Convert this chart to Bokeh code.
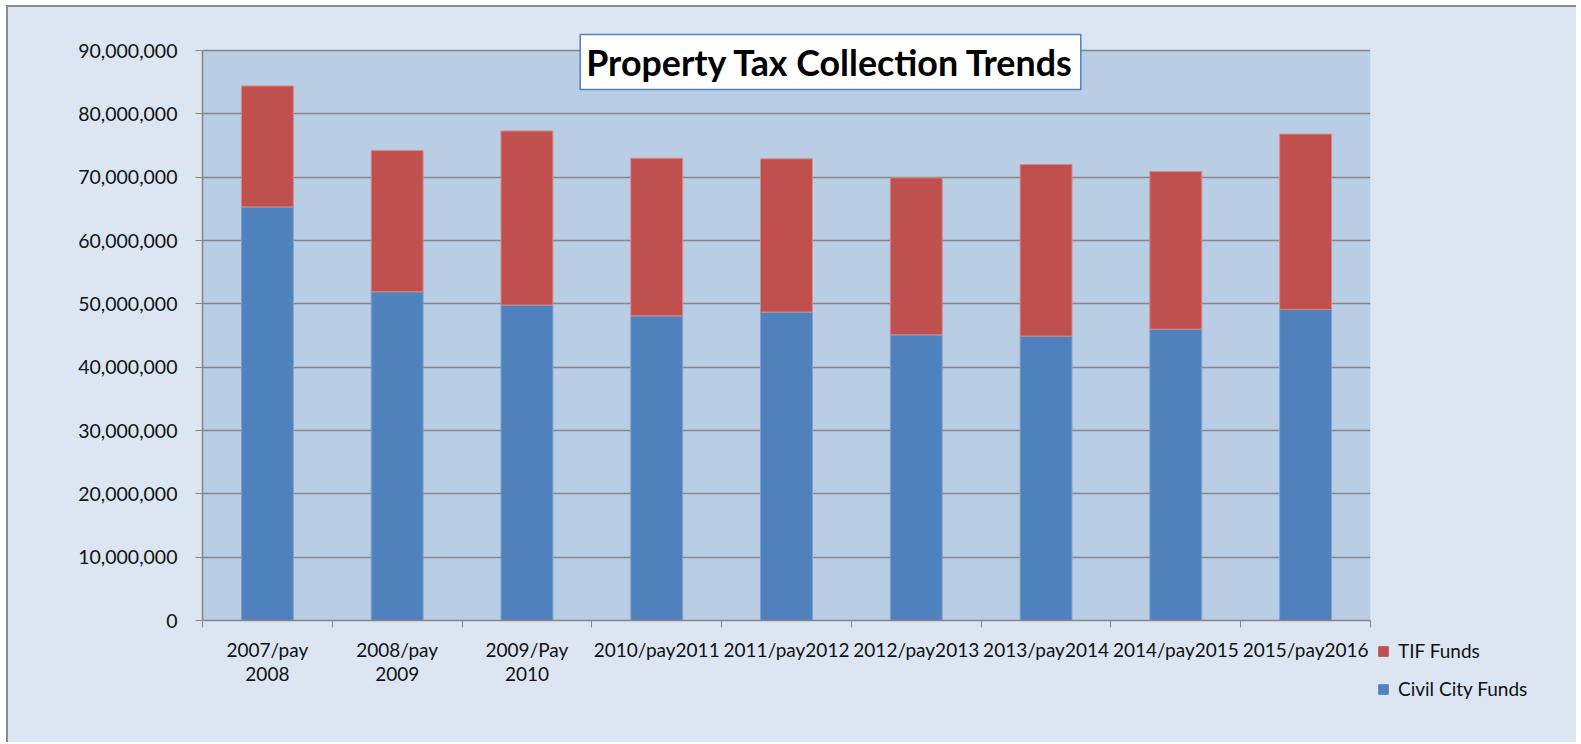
from bokeh.plotting import figure
from bokeh.layouts import row
from bokeh.models import (Range1d, LinearAxis, FixedTicker, BoxAnnotation,
                          NumeralTickFormatter, Legend, LegendItem, Label, ColumnDataSource)
from bokeh.embed import file_html
from bokeh.resources import INLINE

categories = ["2007/pay\n2008", "2008/pay\n2009", "2009/Pay\n2010", "2010/pay2011",
              "2011/pay2012", "2012/pay2013", "2013/pay2014", "2014/pay2015", "2015/pay2016"]
civil_city = [65.3e6, 51.9e6, 49.8e6, 48.1e6, 48.7e6, 45.1e6, 44.9e6, 46.0e6, 49.1e6]
tif_funds = [19.1e6, 22.3e6, 27.5e6, 24.9e6, 24.2e6, 24.8e6, 27.1e6, 24.9e6, 27.7e6]
y_ticks = [0, 10e6, 20e6, 30e6, 40e6, 50e6, 60e6, 70e6, 80e6, 90e6]
series_names = ["Civil City Funds", "TIF Funds"]
title_text = "Property Tax Collection Trends"

FONT = "Lato"
BLUE = "#4F81BD"
RED = "#C0504D"
OUTER = "#DCE6F2"
H = 735

n = len(categories)
centers = [i + 0.5 for i in range(n)]
source = ColumnDataSource(dict(x=centers, civil=civil_city, tif=tif_funds))

# plot area is 570 px tall for the 0..90M axis; frame extended 20 px above it so
# the title box can overhang the top of the plot area
AXIS_PX = 570
EXTRA_TOP_PX = 20
y_min, y_axis_max = y_ticks[0], y_ticks[-1]
y_frame_max = y_axis_max * (AXIS_PX + EXTRA_TOP_PX) / AXIS_PX

p = figure(x_range=Range1d(0, n), y_range=Range1d(y_min, y_frame_max),
           width=1368, height=H, output_backend="svg", toolbar_location=None,
           x_axis_location=None, min_border_left=194, min_border_top=43 - EXTRA_TOP_PX,
           min_border_right=6, min_border_bottom=H - 43 - AXIS_PX,
           background_fill_color=OUTER, border_fill_color=OUTER,
           outline_line_color=None, frame_align=False)

plot_area = BoxAnnotation(left=0, right=n, bottom=y_min, top=y_axis_max,
                          fill_color="#B9CDE5", fill_alpha=1, line_color=None, level="image")
p.add_layout(plot_area)

rs = p.vbar_stack(["civil", "tif"], x="x", width=0.4, source=source,
                  color=[BLUE, RED], line_color=["#7FA3D0", "#D58A88"], line_width=1)

# y axis styling
yax = p.yaxis[0]
yax.ticker = FixedTicker(ticks=y_ticks)
yax.bounds = (y_min, y_axis_max)
yax.formatter = NumeralTickFormatter(format="0,0")
yax.axis_line_color = "#868686"
yax.axis_line_width = 1.5
yax.major_tick_line_color = "#868686"
yax.major_tick_out = 7
yax.major_tick_in = 0
yax.minor_tick_line_color = None
yax.major_label_text_font = FONT
yax.major_label_text_font_size = "19.5px"
yax.major_label_text_color = "#111111"
yax.major_label_standoff = 18

p.ygrid.ticker = FixedTicker(ticks=y_ticks)
p.ygrid.grid_line_color = "#868686"
p.ygrid.grid_line_width = 1.5
p.xgrid.grid_line_color = None

# tick axis at category boundaries (no labels)
bounds = list(range(n + 1))
tick_axis = LinearAxis(ticker=FixedTicker(ticks=bounds),
                       major_label_overrides={b: "" for b in bounds},
                       major_label_text_color=None, major_label_standoff=0,
                       axis_line_color="#868686", axis_line_width=1.5,
                       major_tick_line_color="#868686", major_tick_out=7, major_tick_in=0,
                       minor_tick_line_color=None)
p.add_layout(tick_axis, "below")

label_axis = LinearAxis(ticker=FixedTicker(ticks=centers),
                        major_label_overrides={c: lab for c, lab in zip(centers, categories)},
                        axis_line_color=None, major_tick_line_color=None,
                        major_tick_out=0, major_tick_in=0, minor_tick_line_color=None,
                        major_label_text_font=FONT, major_label_text_font_size="19px",
                        major_label_text_color="#111111", major_label_standoff=10,
                        major_label_text_line_height=1.05)
p.add_layout(label_axis, "below")

title = Label(x=628, y=558.5, x_units="screen", y_units="screen", text=title_text,
              text_align="center", text_baseline="middle",
              text_font=FONT, text_font_style="bold", text_font_size="35.8px",
              text_color="#000000", background_fill_color="white",
              border_line_color=BLUE, border_line_width=1.5, padding=6)
p.add_layout(title)

# legend panel to the right of the plot
p2 = figure(x_range=Range1d(0, 1), y_range=Range1d(0, 1), width=200, height=H,
            output_backend="svg", toolbar_location=None,
            x_axis_location=None, y_axis_location=None,
            min_border=0, min_border_left=0, min_border_right=0,
            min_border_top=0, min_border_bottom=0, frame_align=False,
            background_fill_color=OUTER, border_fill_color=OUTER, outline_line_color=None)
p2.xgrid.grid_line_color = None
p2.ygrid.grid_line_color = None
offscreen = ColumnDataSource(dict(x=[5], top=[5]))
r_civil = p2.vbar(x="x", top="top", width=0.1, source=offscreen, color=BLUE)
r_tif = p2.vbar(x="x", top="top", width=0.1, source=offscreen, color=RED)

legend = Legend(items=[LegendItem(label=series_names[1], renderers=[r_tif]),
                       LegendItem(label=series_names[0], renderers=[r_civil])],
                location=(1, 42), padding=0, margin=0,
                border_line_color=None, background_fill_alpha=0,
                glyph_width=12, glyph_height=12, label_standoff=9,
                label_height=22, spacing=15,
                label_text_font=FONT, label_text_font_size="19px",
                label_text_color="#111111")
p2.add_layout(legend)

layout = row(p, p2, spacing=0, margin=(5, 0, 0, 6),
             styles={"border-left": "2px solid #8c8c8c", "border-top": "2px solid #8c8c8c",
                     "background-color": OUTER})

open("out.html", "w").write(file_html(layout, INLINE))
